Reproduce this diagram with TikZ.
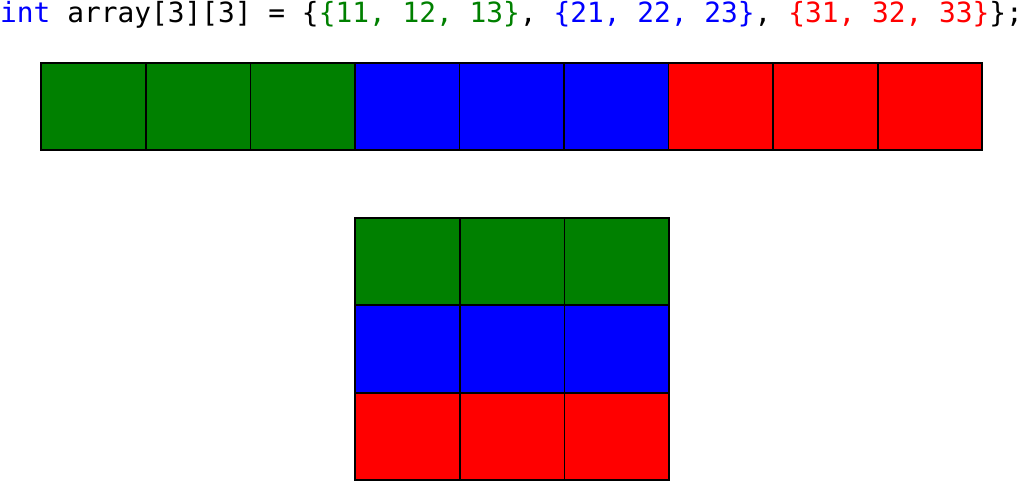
\documentclass[tikz,border=0pt]{standalone}
\usepackage{fontspec}
\setmonofont{DejaVu Sans Mono}
\definecolor{cgreen}{RGB}{0,128,0}
\definecolor{cblue}{RGB}{0,0,255}
\definecolor{cred}{RGB}{255,0,0}
\begin{document}
\begin{tikzpicture}[x=1pt,y=-1pt,
  cell/.style={minimum width=104.56pt,minimum height=87.3pt,inner sep=0pt,outer sep=0pt,anchor=north west},
  gcell/.style={cell,fill=cgreen},
  bcell/.style={cell,fill=cblue},
  rcell/.style={cell,fill=cred},
  border/.style={draw=black,line width=1.5pt},
  outline/.style={draw=black,line width=2pt}]
\useasboundingbox (0,0) rectangle (1024,482);
\node[inner sep=0pt,anchor=base west,font=\ttfamily\fontsize{27.85}{30}\selectfont] (code) at (0,22.5)
  {\textcolor{cblue}{int} array[3][3] = \{\textcolor{cgreen}{\{11, 12, 13\}}, \textcolor{cblue}{\{21, 22, 23\}}, \textcolor{cred}{\{31, 32, 33\}}\};};
% top row
\foreach \i/\s in {0/gcell,1/gcell,2/gcell,3/bcell,4/bcell,5/bcell,6/rcell,7/rcell,8/rcell}
  \node[\s] (t\i) at ({41.3+\i*104.56},63) {};
\foreach \i in {0,...,7}
  \draw[border] (t\i.north east) -- (t\i.south east);
\draw[outline] (t0.north west) rectangle (t8.south east);
% grid
\foreach \r/\s in {0/gcell,1/bcell,2/rcell}
  \foreach \c in {0,1,2}
    \node[\s] (g\r\c) at ({355.3+\c*104.4},{218+\r*87.3}) {};
\draw[border] (g00.north east) -- (g20.south east);
\draw[border] (g01.north east) -- (g21.south east);
\draw[outline] (g00.north west) rectangle (g22.south east);
\draw[outline] (g10.north west) -- (g12.north east);
\draw[outline] (g20.north west) -- (g22.north east);
\end{tikzpicture}
\end{document}
